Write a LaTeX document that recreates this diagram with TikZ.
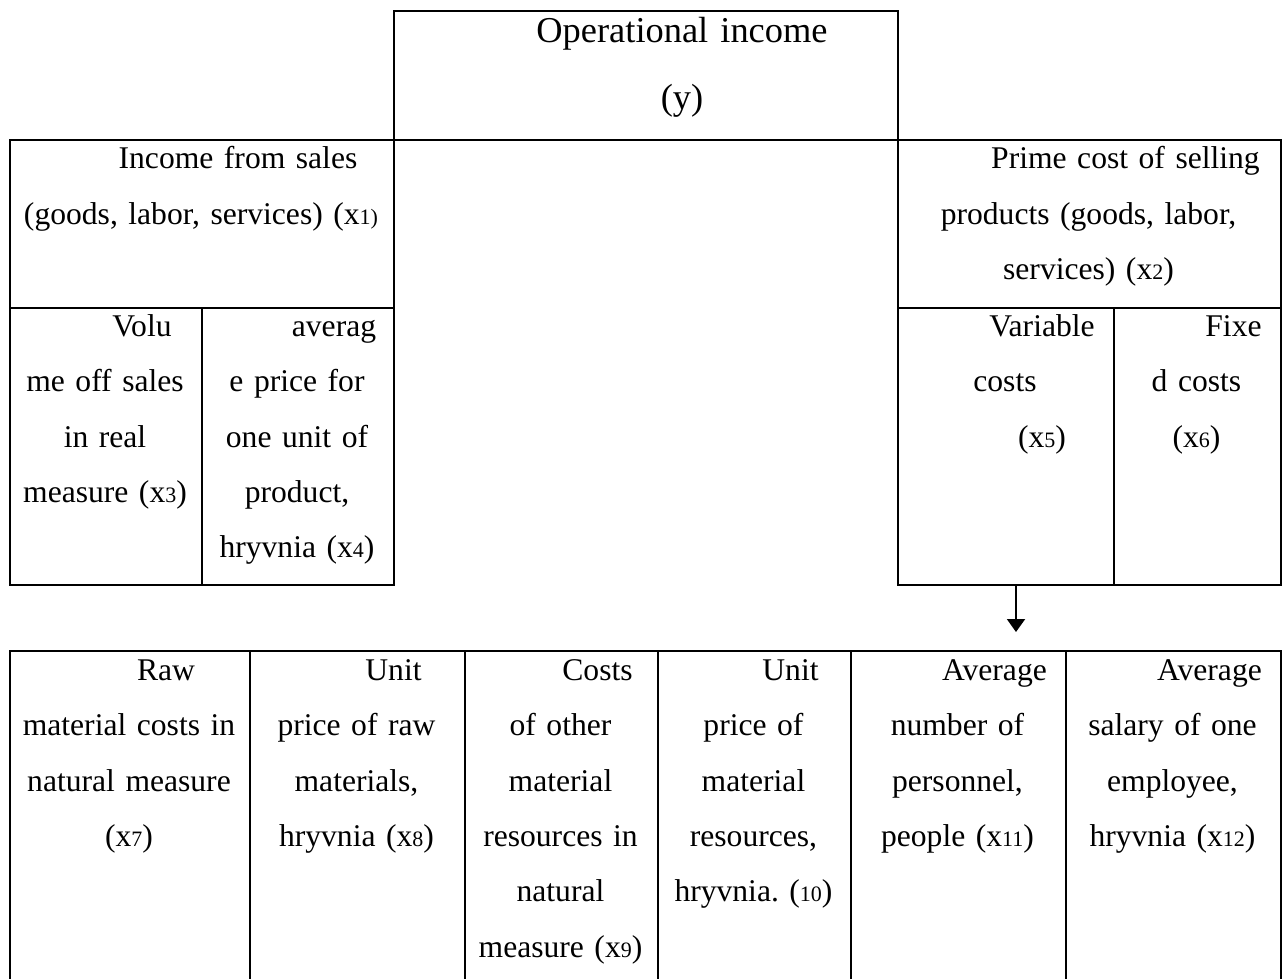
\documentclass[tikz,border=0pt]{standalone}
\usepackage{fontspec}
\setmainfont{Liberation Serif}
\usetikzlibrary{arrows.meta}
% small index digits set on the baseline
\newcommand\sm[1]{{\fontsize{11pt}{11pt}\selectfont #1}}
% first-line indent of each paragraph
\newcommand\ind{\hspace*{37pt}}
\frenchspacing

\begin{document}
\begin{tikzpicture}[x=0.5pt,y=-0.5pt,
  box/.style={draw, line width=1pt, inner sep=0pt, anchor=north west},
  txt/.style={anchor=base, inner sep=0pt, align=center,
    font=\fontsize{15.8pt}{27.75pt}\selectfont},
  ttl/.style={anchor=base, inner sep=0pt, align=center,
    font=\fontsize{18.2pt}{33.5pt}\selectfont},
]
\useasboundingbox (0,0) rectangle (1282,979);

% ---- upper block ----
\node[box, minimum width=252pt, minimum height=64.5pt] (top) at (393,10) {};
\node[box, minimum width=192pt, minimum height=84pt] (inc) at (9,139) {};
\node[box, minimum width=191.5pt, minimum height=84pt] (prime) at (897,139) {};
\node[box, minimum width=96pt, minimum height=138.5pt] (vol) at (9,307) {};
\node[box, minimum width=96pt, minimum height=138.5pt] (avg) at (201,307) {};
\node[box, minimum width=108pt, minimum height=138.5pt] (var) at (897,307) {};
\node[box, minimum width=83.5pt, minimum height=138.5pt] (fix) at (1113,307) {};

\node[ttl, text width=252pt] (ttop) at (645,43)
  {\ind Operational income\\ \ind (y)};
\node[txt, text width=192pt] (tinc) at (201,169)
  {\ind Income from sales\\ (goods, labor, services) (x\sm{1)}};
\node[txt, text width=191.5pt] (tprime) at (1088.5,169)
  {\ind Prime cost of selling\\ products (goods, labor,\\ services) (x\sm{2})};
\node[txt, text width=96pt] (tvol) at (105,336)
  {\ind Volu\\ me off sales\\ in real\\ measure (x\sm{3})};
\node[txt, text width=96pt] (tavg) at (297,336)
  {\ind averag\\ e price for\\ one unit of\\ product,\\ hryvnia (x\sm{4})};
\node[txt, text width=108pt] (tvar) at (1005,336)
  {\ind Variable\\ costs\\ \ind (x\sm{5})};
\node[txt, text width=83.5pt] (tfix) at (1196.5,336)
  {\ind Fixe\\ d costs\\ (x\sm{6})};

% ---- lower table ----
\node[box, minimum width=120pt, minimum height=165.5pt] (b1) at (9,650) {};
\node[box, minimum width=107.5pt, minimum height=165.5pt] (b2) at (249,650) {};
\node[box, minimum width=96.5pt, minimum height=165.5pt] (b3) at (464,650) {};
\node[box, minimum width=96.5pt, minimum height=165.5pt] (b4) at (657,650) {};
\node[box, minimum width=107.5pt, minimum height=165.5pt] (b5) at (850,650) {};
\node[box, minimum width=107.5pt, minimum height=165.5pt] (b6) at (1065,650) {};

\node[txt, text width=120pt] (tb1) at (129,680)
  {\ind Raw\\ material costs in\\ natural measure\\ (x\sm{7})};
\node[txt, text width=107.5pt] (tb2) at (356.5,680)
  {\ind Unit\\ price of raw\\ materials,\\ hryvnia (x\sm{8})};
\node[txt, text width=96.5pt] (tb3) at (560.5,680)
  {\ind Costs\\ of other\\ material\\ resources in\\ natural\\ measure (x\sm{9})};
\node[txt, text width=96.5pt] (tb4) at (753.5,680)
  {\ind Unit\\ price of\\ material\\ resources,\\ hryvnia. (\sm{10})};
\node[txt, text width=107.5pt] (tb5) at (957.5,680)
  {\ind Average\\ number of\\ personnel,\\ people (x\sm{11})};
\node[txt, text width=107.5pt] (tb6) at (1172.5,680)
  {\ind Average\\ salary of one\\ employee,\\ hryvnia (x\sm{12})};

% ---- arrow from the cost block down to the table ----
\coordinate (ax) at (1016,0);
\coordinate (atip) at (1016,632);
\draw[line width=1pt, -{Triangle[width=9pt,length=6.5pt]}] (var.south -| ax) -- (atip);
\end{tikzpicture}
\end{document}
